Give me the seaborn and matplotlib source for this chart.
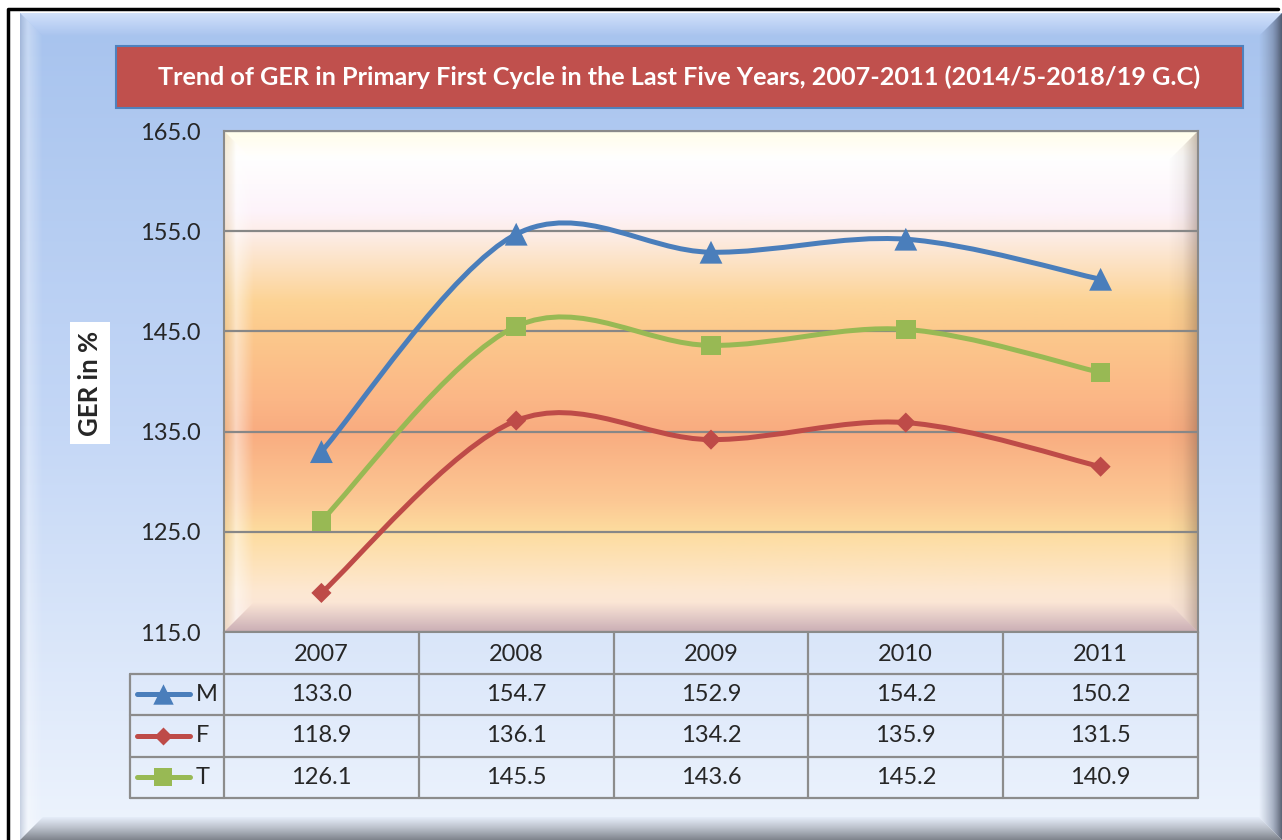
import matplotlib
matplotlib.use("Agg")
import matplotlib.pyplot as plt
import numpy as np
import seaborn as sns
from matplotlib.colors import LinearSegmentedColormap, to_rgba
from matplotlib.patches import Polygon, Rectangle, PathPatch
from matplotlib.path import Path

# data
years = ["2007", "2008", "2009", "2010", "2011"]
male = [133.0, 154.7, 152.9, 154.2, 150.2]
female = [118.9, 136.1, 134.2, 135.9, 131.5]
total = [126.1, 145.5, 143.6, 145.2, 140.9]
series_names = ["M", "F", "T"]
y_ticks = [115.0, 125.0, 135.0, 145.0, 155.0, 165.0]
title = "Trend of GER in Primary First Cycle in the Last Five Years, 2007-2011 (2014/5-2018/19 G.C)"
y_label = "GER in %"

colors = {"M": "#4A7EBB", "F": "#BE4B48", "T": "#98B954"}
markers = {"M": "^", "F": "D", "T": "s"}
sizes = {"M": 270, "F": 105, "T": 200}

sns.set_theme(style="white")
plt.rcParams["font.family"] = ["Lato", "DejaVu Sans"]

W, H = 1282, 840
fig = plt.figure(figsize=(W / 100, H / 100), dpi=100)
fig.patch.set_facecolor("white")

# background axes in pixel coordinates
bg = fig.add_axes([0, 0, 1, 1])
bg.set_xlim(0, W)
bg.set_ylim(H, 0)
bg.axis("off")


def grad_fill(ax, box, stops, poly=None, vertical=True, zorder=1):
    """Fill box (x0, y0, x1, y1) with a gradient, optionally clipped to poly."""
    x0, y0, x1, y1 = box
    cmap = LinearSegmentedColormap.from_list("g", [(p, to_rgba(c)) for p, c in stops])
    t = np.linspace(0, 1, 256)
    img = cmap(t)[:, None, :] if vertical else cmap(t)[None, :, :]
    im = ax.imshow(img, extent=(x0, x1, y1, y0), origin="upper", aspect="auto",
                   interpolation="bilinear", zorder=zorder)
    if poly is not None:
        clip = Polygon(poly, closed=True, transform=ax.transData)
        im.set_clip_path(clip)
    return im


# outer blue panel
px0, py0, px1, py1, bw = 20, 13, 1282, 840, 23
grad_fill(bg, (px0, py0, px1, py1), [(0, "#A7C3EE"), (0.5, "#C4D7F6"), (1, "#EEF4FD")])
grad_fill(bg, (px0, py0, px1, py0 + bw), [(0, "#D2E1F9"), (0.5, "#BDD2F5"), (1, "#A9C4EE")],
          poly=[(px0, py0), (px1, py0), (px1 - bw, py0 + bw), (px0 + bw, py0 + bw)], zorder=2)
grad_fill(bg, (px0, py0, px0 + bw, py1), [(0, (0.6, 0.65, 0.75, 0.45)), (0.35, (1, 1, 1, 0.35)),
                                          (1, (1, 1, 1, 0))],
          poly=[(px0, py0), (px0 + bw, py0 + bw), (px0 + bw, py1 - bw), (px0, py1)],
          vertical=False, zorder=2)
grad_fill(bg, (px1 - bw, py0, px1, py1), [(0, (0.5, 0.55, 0.65, 0)), (0.6, (0.4, 0.45, 0.55, 0.5)),
                                          (1, (0.25, 0.28, 0.35, 0.85))],
          poly=[(px1, py0), (px1 - bw, py0 + bw), (px1 - bw, py1 - bw), (px1, py1)],
          vertical=False, zorder=2)
grad_fill(bg, (px0, py1 - bw, px1, py1), [(0, "#E6EEFA"), (0.5, "#B8BEC8"), (1, "#7E838C")],
          poly=[(px0, py1), (px0 + bw, py1 - bw), (px1 - bw, py1 - bw), (px1, py1)], zorder=2)
bg.plot([8, 8, 1278], [845, 9, 9], color="black", lw=2.5, zorder=5)

# title box
bg.add_patch(Rectangle((116, 46), 1127, 62, facecolor="#C0504D", edgecolor="#4F81BD",
                       lw=1.5, zorder=3))
bg.text(679.5, 77, title, color="white", fontsize=18.2, fontweight="bold",
        ha="center", va="center", zorder=4)

# plot area gradient and bevel
ax0, ay0, ax1, ay1, pb = 224, 131, 1198, 632, 30
grad_fill(bg, (ax0, ay0, ax1, ay1), [
    (0.00, "#FFFBE8"), (0.05, "#FFFFFF"), (0.16, "#FDF3FA"), (0.21, "#FDECE4"),
    (0.34, "#FCD394"), (0.40, "#FCC98C"), (0.54, "#FBB686"), (0.60, "#F9AC80"),
    (0.74, "#FCC894"), (0.80, "#FDDC9E"), (0.92, "#FDE8D2"), (1.00, "#F8E2DE")], zorder=2)
grad_fill(bg, (ax0, ay0, ax1, ay0 + pb), [(0, (1, 1, 0.93, 0.9)), (1, (1, 1, 1, 0))],
          poly=[(ax0, ay0), (ax1, ay0), (ax1 - pb, ay0 + pb), (ax0 + pb, ay0 + pb)], zorder=3)
grad_fill(bg, (ax0, ay0, ax0 + pb, ay1), [(0, (0.85, 0.75, 0.55, 0.3)), (0.4, (1, 1, 1, 0.5)),
                                          (1, (1, 1, 1, 0))],
          poly=[(ax0, ay0), (ax0 + pb, ay0 + pb), (ax0 + pb, ay1 - pb), (ax0, ay1)],
          vertical=False, zorder=3)
grad_fill(bg, (ax1 - pb, ay0, ax1, ay1), [(0, (0.45, 0.35, 0.3, 0)), (0.5, (0.45, 0.35, 0.3, 0.08)),
                                          (1, (0.4, 0.3, 0.25, 0.38))],
          poly=[(ax1, ay0), (ax1 - pb, ay0 + pb), (ax1 - pb, ay1 - pb), (ax1, ay1)],
          vertical=False, zorder=3)
grad_fill(bg, (ax0, ay1 - pb, ax1, ay1), [(0, (0.5, 0.35, 0.45, 0)), (1, (0.45, 0.3, 0.4, 0.35))],
          poly=[(ax0, ay1), (ax0 + pb, ay1 - pb), (ax1 - pb, ay1 - pb), (ax1, ay1)], zorder=3)

# y label box
bg.text(90, 383, y_label, rotation=90, fontsize=18.5, fontweight="bold", ha="center", va="center",
        zorder=4, bbox=dict(facecolor="white", edgecolor="none", pad=6))

bg.set_xlim(0, W)
bg.set_ylim(H, 0)

# main chart axes
ax = fig.add_axes([ax0 / W, (H - ay1) / H, (ax1 - ax0) / W, (ay1 - ay0) / H])
ax.set_facecolor("none")
x = np.arange(len(years))


def smooth_path(xs, ys):
    # Excel-like smoothed line as cubic Bezier segments through the data points
    pts = np.column_stack([xs, ys]).astype(float)
    n = len(pts)
    verts = [pts[0]]
    codes = [Path.MOVETO]
    for i in range(n - 1):
        p0 = pts[max(i - 1, 0)]
        p1, p2 = pts[i], pts[i + 1]
        p3 = pts[min(i + 2, n - 1)]
        c1 = p1 + (p2 - p0) / 6
        c2 = p2 - (p3 - p1) / 6
        verts += [c1, c2, p2]
        codes += [Path.CURVE4] * 3
    return Path(verts, codes)


for name, vals in zip(series_names, [male, female, total]):
    ax.add_patch(PathPatch(smooth_path(x, vals), facecolor="none", edgecolor=colors[name],
                           lw=3.6, capstyle="round", zorder=3))
    sns.scatterplot(x=x, y=vals, marker=markers[name], s=sizes[name], color=colors[name],
                    edgecolor="none", linewidth=0, ax=ax, zorder=4, legend=False)

ax.set_xlim(-0.5, len(years) - 0.5)
ax.set_ylim(y_ticks[0], y_ticks[-1])
ax.set_yticks(y_ticks)
ax.set_yticklabels([f"{v:.1f}" for v in y_ticks], fontsize=17)
ax.set_xticks([])
ax.tick_params(axis="y", length=0, pad=17)
ax.grid(axis="y", color="#878787", lw=1.6)
ax.grid(axis="x", visible=False)
for sp in ax.spines.values():
    sp.set_color("#8A8A8A")
    sp.set_linewidth(1.5)
ax.set_xlabel("")
ax.set_ylabel("")

# data table below the chart
tx0, ty0, ty1 = 130, 632, 798
unit = (ax1 - ax0) / len(years)
left = -0.5 - (ax0 - tx0) / unit
tab = fig.add_axes([tx0 / W, (H - ty1) / H, (ax1 - tx0) / W, (ty1 - ty0) / H])
tab.set_facecolor("none")
tab.axis("off")
tab.set_xlim(left, len(years) - 0.5)
tab.set_ylim(4, 0)
gc = "#8C8C8C"
for r in range(1, 5):
    tab.plot([left, len(years) - 0.5], [r, r], color=gc, lw=1.6, clip_on=False)
tab.plot([left, left], [1, 4], color=gc, lw=1.6, clip_on=False)
for c in range(len(years) + 1):
    tab.plot([c - 0.5, c - 0.5], [0, 4], color=gc, lw=1.6, clip_on=False)
for i, yr in enumerate(years):
    tab.text(i, 0.55, yr, ha="center", va="center", fontsize=17)
for r, (name, vals) in enumerate(zip(series_names, [male, female, total]), start=1):
    for i, v in enumerate(vals):
        tab.text(i, r + 0.5, f"{v:.1f}", ha="center", va="center", fontsize=17)
    kx0 = left + 7 / unit
    kx1 = left + 60 / unit
    tab.plot([kx0, kx1], [r + 0.5, r + 0.5], color=colors[name], lw=3.6,
             solid_capstyle="round", clip_on=False)
    tab.scatter([(kx0 + kx1) / 2], [r + 0.5], marker=markers[name], s=sizes[name] * 0.8,
                color=colors[name], linewidths=0, zorder=4, clip_on=False)
    tab.text(left + 66 / unit, r + 0.5, name, ha="left", va="center", fontsize=17)

fig.savefig("out.png", dpi=100)
